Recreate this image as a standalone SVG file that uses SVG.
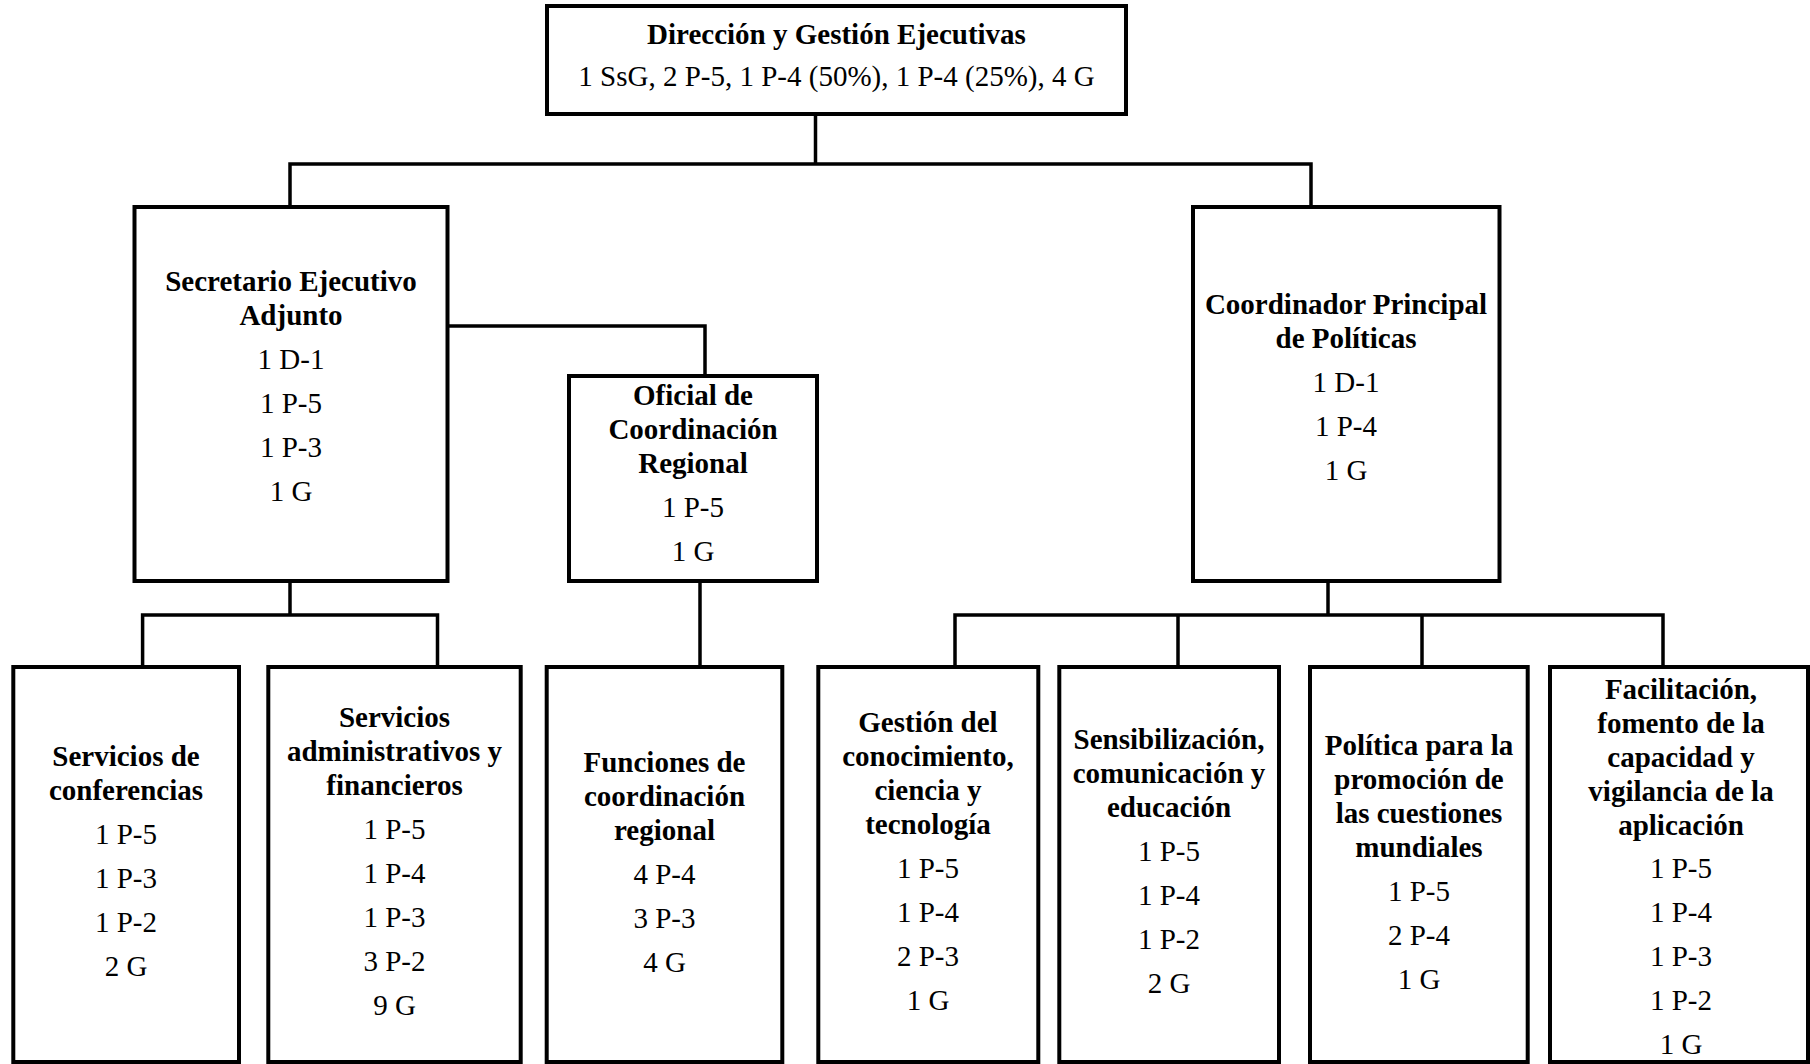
<svg xmlns="http://www.w3.org/2000/svg" width="1810" height="1064" viewBox="0 0 1810 1064">
<style>
.box{fill:#fff;stroke:#000;stroke-width:4}
.ln{fill:none;stroke:#000;stroke-width:3.5}
text{font-family:"Liberation Serif","Times New Roman",serif;font-size:29px;fill:#000;text-anchor:middle}
.b{font-weight:bold}
</style>
<rect width="1810" height="1064" fill="#fff"/>
<g id="connectors">
<path class="ln" d="M815.5 114V164"/>
<path class="ln" d="M290 207V164H1311V207"/>
<path class="ln" d="M447 326H705V376"/>
<path class="ln" d="M290 581V615"/>
<path class="ln" d="M142.6 667V615H437.5V667"/>
<path class="ln" d="M700 581V667"/>
<path class="ln" d="M1328 581V615"/>
<path class="ln" d="M955 667V615H1663V667"/>
<path class="ln" d="M1178 615V667M1422 615V667"/>
</g>
<g id="n-direccion">
<rect class="box" x="547" y="6" width="579" height="108"/>
<text class="b" x="836.5" y="44">Dirección y Gestión Ejecutivas</text>
<text x="836.5" y="86">1 SsG, 2 P-5, 1 P-4 (50%), 1 P-4 (25%), 4 G</text>
</g>
<g id="n-sea">
<rect class="box" x="134.5" y="207" width="313" height="374"/>
<text class="b" x="291" y="291">Secretario Ejecutivo</text>
<text class="b" x="291" y="325">Adjunto</text>
<text x="291" y="369">1 D-1</text>
<text x="291" y="413">1 P-5</text>
<text x="291" y="457">1 P-3</text>
<text x="291" y="501">1 G</text>
</g>
<g id="n-ocr">
<rect class="box" x="569" y="376" width="248" height="205"/>
<text class="b" x="693" y="405">Oficial de</text>
<text class="b" x="693" y="439">Coordinación</text>
<text class="b" x="693" y="473">Regional</text>
<text x="693" y="517">1 P-5</text>
<text x="693" y="561">1 G</text>
</g>
<g id="n-cpp">
<rect class="box" x="1193" y="207" width="306.5" height="374"/>
<text class="b" x="1346" y="314">Coordinador Principal</text>
<text class="b" x="1346" y="348">de Políticas</text>
<text x="1346" y="392">1 D-1</text>
<text x="1346" y="436">1 P-4</text>
<text x="1346" y="480">1 G</text>
</g>
<g id="n-conferencias">
<rect class="box" x="13.3" y="667" width="225.7" height="395"/>
<text class="b" x="126" y="766">Servicios de</text>
<text class="b" x="126" y="800">conferencias</text>
<text x="126" y="844">1 P-5</text>
<text x="126" y="888">1 P-3</text>
<text x="126" y="932">1 P-2</text>
<text x="126" y="976">2 G</text>
</g>
<g id="n-administrativos">
<rect class="box" x="268.3" y="667" width="252.4" height="395"/>
<text class="b" x="394.5" y="727">Servicios</text>
<text class="b" x="394.5" y="761">administrativos y</text>
<text class="b" x="394.5" y="795">financieros</text>
<text x="394.5" y="839">1 P-5</text>
<text x="394.5" y="883">1 P-4</text>
<text x="394.5" y="927">1 P-3</text>
<text x="394.5" y="971">3 P-2</text>
<text x="394.5" y="1015">9 G</text>
</g>
<g id="n-funciones">
<rect class="box" x="546.7" y="667" width="235.6" height="395"/>
<text class="b" x="664.5" y="772">Funciones de</text>
<text class="b" x="664.5" y="806">coordinación</text>
<text class="b" x="664.5" y="840">regional</text>
<text x="664.5" y="884">4 P-4</text>
<text x="664.5" y="928">3 P-3</text>
<text x="664.5" y="972">4 G</text>
</g>
<g id="n-gestion">
<rect class="box" x="818.3" y="667" width="220" height="395"/>
<text class="b" x="928" y="732">Gestión del</text>
<text class="b" x="928" y="766">conocimiento,</text>
<text class="b" x="928" y="800">ciencia y</text>
<text class="b" x="928" y="834">tecnología</text>
<text x="928" y="878">1 P-5</text>
<text x="928" y="922">1 P-4</text>
<text x="928" y="966">2 P-3</text>
<text x="928" y="1010">1 G</text>
</g>
<g id="n-sensibilizacion">
<rect class="box" x="1059.3" y="667" width="219.7" height="395"/>
<text class="b" x="1169" y="749">Sensibilización,</text>
<text class="b" x="1169" y="783">comunicación y</text>
<text class="b" x="1169" y="817">educación</text>
<text x="1169" y="861">1 P-5</text>
<text x="1169" y="905">1 P-4</text>
<text x="1169" y="949">1 P-2</text>
<text x="1169" y="993">2 G</text>
</g>
<g id="n-politica">
<rect class="box" x="1310" y="667" width="217.7" height="395"/>
<text class="b" x="1419" y="755">Política para la</text>
<text class="b" x="1419" y="789">promoción de</text>
<text class="b" x="1419" y="823">las cuestiones</text>
<text class="b" x="1419" y="857">mundiales</text>
<text x="1419" y="901">1 P-5</text>
<text x="1419" y="945">2 P-4</text>
<text x="1419" y="989">1 G</text>
</g>
<g id="n-facilitacion">
<rect class="box" x="1550" y="667" width="258" height="395"/>
<text class="b" x="1681" y="699">Facilitación,</text>
<text class="b" x="1681" y="733">fomento de la</text>
<text class="b" x="1681" y="767">capacidad y</text>
<text class="b" x="1681" y="801">vigilancia de la</text>
<text class="b" x="1681" y="835">aplicación</text>
<text x="1681" y="878">1 P-5</text>
<text x="1681" y="922">1 P-4</text>
<text x="1681" y="966">1 P-3</text>
<text x="1681" y="1010">1 P-2</text>
<text x="1681" y="1054">1 G</text>
</g>
</svg>
